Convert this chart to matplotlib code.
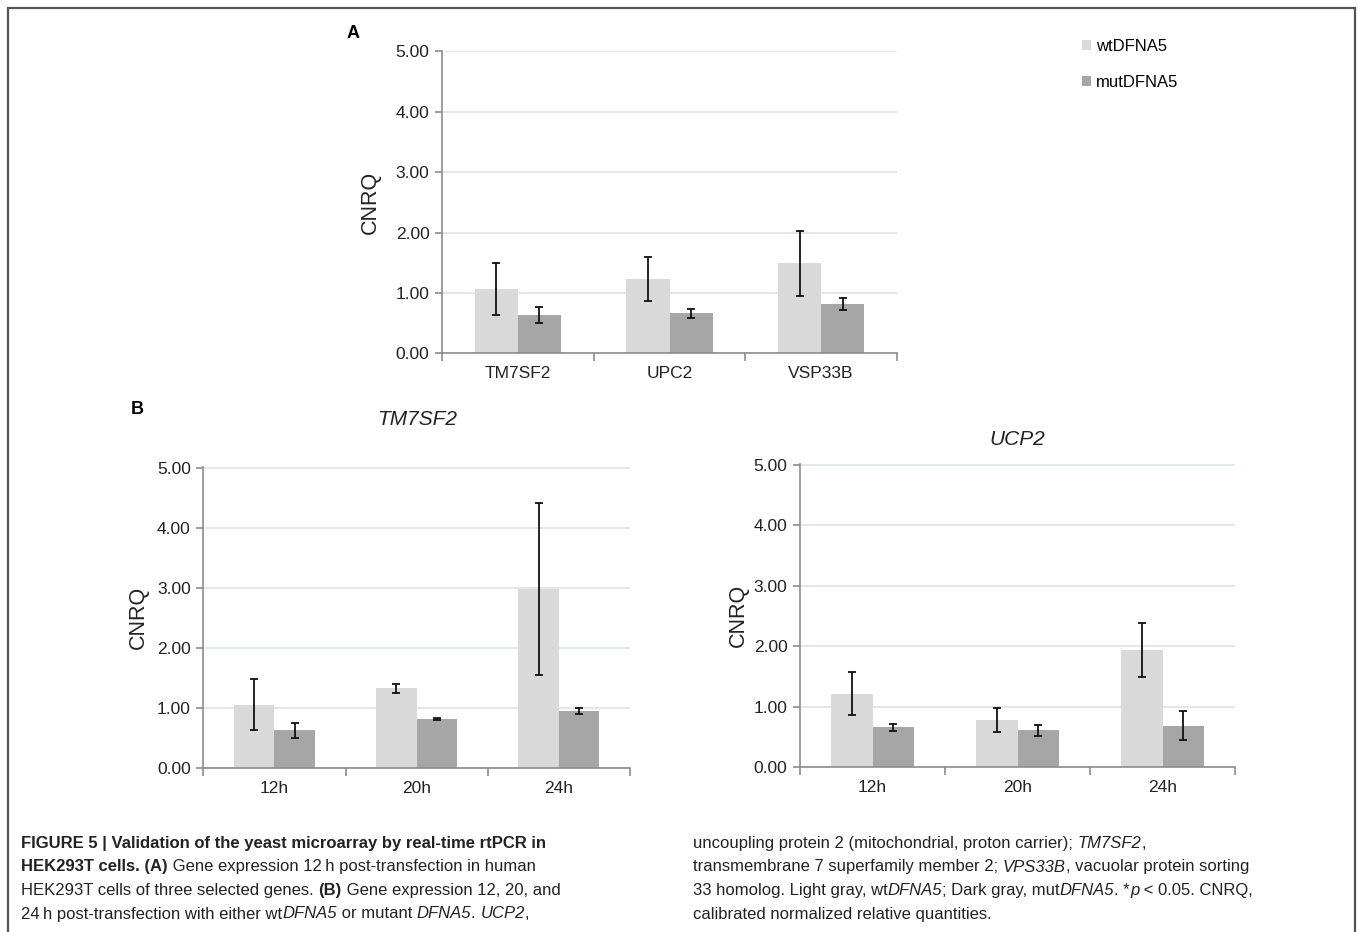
import numpy as np
import matplotlib.pyplot as plt
from matplotlib.patches import Rectangle
from matplotlib.transforms import IdentityTransform

plt.rcParams['font.family'] = ['Liberation Sans', 'DejaVu Sans']

# panel A data (12h)
genes_a = ['TM7SF2', 'UPC2', 'VSP33B']
wt_a = [1.06, 1.23, 1.49]
wt_a_err = [0.43, 0.36, 0.54]
mut_a = [0.63, 0.66, 0.82]
mut_a_err = [0.13, 0.07, 0.095]

# panel B data
times = ['12h', '20h', '24h']
tm_wt = [1.06, 1.33, 2.98]
tm_wt_err = [0.43, 0.07, 1.43]
tm_mut = [0.63, 0.82, 0.95]
tm_mut_err = [0.125, 0.017, 0.052]
ucp_wt = [1.22, 0.78, 1.94]
ucp_wt_err = [0.36, 0.20, 0.45]
ucp_mut = [0.66, 0.61, 0.69]
ucp_mut_err = [0.06, 0.095, 0.235]

series_names = ['wtDFNA5', 'mutDFNA5']
yticks = [0, 1, 2, 3, 4, 5]

LIGHT = '#d9d9d9'
DARK = '#a6a6a6'
AXC = '#8c8c8c'
GRID = '#d9e3ee'

W, H = 1358, 932
fig = plt.figure(figsize=(W / 100, H / 100), dpi=100)


def px_axes(l, t, r, b):
    return fig.add_axes([l / W, 1 - b / H, (r - l) / W, (b - t) / H])


def bar_panel(ax, cats, wt, wt_err, mut, mut_err, label_x):
    x = np.arange(len(cats))
    bw = 0.285
    b1 = ax.bar(x - bw / 2, wt, bw, color=LIGHT, zorder=2)
    b2 = ax.bar(x + bw / 2, mut, bw, color=DARK, zorder=2)
    ax.errorbar(x - bw / 2, wt, yerr=wt_err, fmt='none', ecolor='#111111',
                elinewidth=1.3, capsize=2.8, capthick=1.3, zorder=3)
    ax.errorbar(x + bw / 2, mut, yerr=mut_err, fmt='none', ecolor='#111111',
                elinewidth=1.3, capsize=2.8, capthick=1.3, zorder=3)
    ax.set_xlim(-0.5, len(cats) - 0.5)
    ax.set_ylim(0, 5.01)
    ax.set_yticks(yticks)
    ax.set_yticklabels(['%.2f' % v for v in yticks], fontsize=12.5, color='#222222')
    ax.yaxis.grid(True, color=GRID, lw=1.2, zorder=0)
    ax.set_axisbelow(True)
    ax.set_xticks(np.arange(len(cats) + 1) - 0.5)
    ax.set_xticklabels([])
    ax.set_xticks(x, minor=True)
    ax.set_xticklabels(cats, minor=True, fontsize=12.5, color='#222222')
    ax.tick_params(axis='x', which='major', length=6, color=AXC, width=1.2, direction='out')
    ax.tick_params(axis='x', which='minor', length=0, pad=9)
    ax.tick_params(axis='y', length=5, color=AXC, width=1.2, pad=4)
    for s in ['top', 'right']:
        ax.spines[s].set_visible(False)
    for s in ['left', 'bottom']:
        ax.spines[s].set_color(AXC)
        ax.spines[s].set_linewidth(1.2)
    ax.set_ylabel('CNRQ', fontsize=15.5, color='#222222')
    ax.yaxis.set_label_coords(label_x, 0.5)
    return b1, b2


ax_a = px_axes(442, 50.7, 897, 353.3)
h1, h2 = bar_panel(ax_a, genes_a, wt_a, wt_a_err, mut_a, mut_a_err, -0.135)

ax_b1 = px_axes(203.3, 467, 630, 768.3)
bar_panel(ax_b1, times, tm_wt, tm_wt_err, tm_mut, tm_mut_err, -0.128)
ax_b1.set_title('TM7SF2', fontstyle='italic', fontsize=15, pad=30, color='#222222')

ax_b2 = px_axes(800, 464.3, 1235, 767.3)
bar_panel(ax_b2, times, ucp_wt, ucp_wt_err, ucp_mut, ucp_mut_err, -0.118)
ax_b2.set_title('UCP2', fontstyle='italic', fontsize=15, pad=14, color='#222222')

fig.text(347 / W, 1 - 33 / H, 'A', fontsize=13, fontweight='bold', va='center')
fig.text(131 / W, 1 - 410 / H, 'B', fontsize=13, fontweight='bold', va='center')

fig.legend([h1, h2], series_names, loc='upper left',
           bbox_to_anchor=(1067 / W, 1 - 24 / H), frameon=False, fontsize=12,
           handlelength=0.55, handleheight=0.55, handletextpad=0.3,
           labelspacing=1.25)

# border round the figure
fig.add_artist(Rectangle((8 / W, -0.05), (1355 - 8) / W, 1.05 - 8 / H,
                         transform=fig.transFigure, fill=False,
                         edgecolor='#555555', lw=1.6))

# caption
renderer = fig.canvas.get_renderer()


def rich_line(x, ytop, parts, size=12):
    y = H - ytop
    for txt, st in parts:
        t = fig.text(x, y, txt, fontsize=size, transform=IdentityTransform(),
                     fontweight='bold' if 'b' in st else 'normal',
                     fontstyle='italic' if 'i' in st else 'normal',
                     va='baseline', ha='left', color='#222222')
        x += t.get_window_extent(renderer).width


cap_left = [
    [('FIGURE 5 | Validation of the yeast microarray by real-time rtPCR in', 'b')],
    [('HEK293T cells. (A)', 'b'), (' Gene expression 12\u2009h post-transfection in human', '')],
    [('HEK293T cells of three selected genes. ', ''), ('(B)', 'b'),
     (' Gene expression 12, 20, and', '')],
    [('24\u2009h post-transfection with either wt', ''), ('DFNA5', 'i'),
     (' or mutant ', ''), ('DFNA5', 'i'), ('. ', ''), ('UCP2', 'i'), (',', '')],
]
cap_right = [
    [('uncoupling protein 2 (mitochondrial, proton carrier); ', ''), ('TM7SF2', 'i'), (',', '')],
    [('transmembrane 7 superfamily member 2; ', ''), ('VPS33B', 'i'),
     (', vacuolar protein sorting', '')],
    [('33 homolog. Light gray, wt', ''), ('DFNA5', 'i'), ('; Dark gray, mut', ''),
     ('DFNA5', 'i'), ('. *', ''), ('p', 'i'), (' < 0.05. CNRQ,', '')],
    [('calibrated normalized relative quantities.', '')],
]
baselines = [848, 871.5, 895, 918.5]
for parts, yb in zip(cap_left, baselines):
    rich_line(21, yb, parts, size=12)
for parts, yb in zip(cap_right, baselines):
    rich_line(693, yb, parts, size=12)

fig.savefig('out.png', dpi=100)
